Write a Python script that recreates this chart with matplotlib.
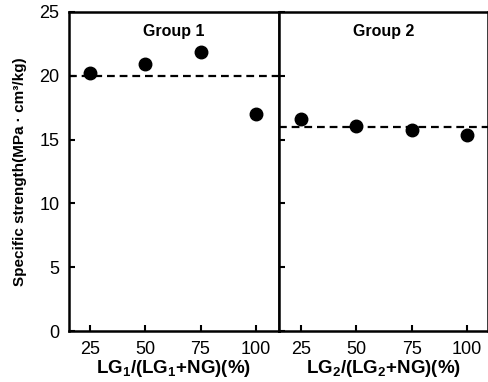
import matplotlib.pyplot as plt

plt.rcParams['font.family'] = ['Liberation Sans', 'DejaVu Sans']
plt.rcParams['mathtext.fontset'] = 'custom'
plt.rcParams['mathtext.rm'] = 'Liberation Sans:bold'
plt.rcParams['mathtext.bf'] = 'Liberation Sans:bold'

# data
ratio = [25, 50, 75, 100]
group1 = [20.2, 20.9, 21.9, 17.0]
group2 = [16.6, 16.05, 15.75, 15.35]
ref1 = 20
ref2 = 16
xlabels = ['LG$_1$/(LG$_1$+NG)(%)', 'LG$_2$/(LG$_2$+NG)(%)']
titles = ['Group 1', 'Group 2']

fig = plt.figure(figsize=(4.89, 3.82), dpi=100)
ax1 = fig.add_axes([69/489, 1-331/382, 210/489, 319/382])
ax2 = fig.add_axes([279/489, 1-331/382, 209/489, 319/382], sharey=ax1)

for ax, vals, ref, xl, t, xlim in [(ax1, group1, ref1, xlabels[0], titles[0], (15.5, 110.5)),
                                    (ax2, group2, ref2, xlabels[1], titles[1], (15.1, 109.4))]:
    ax.plot(ratio, vals, 'o', color='black', markersize=9, zorder=3)
    ax.axhline(ref, color='black', linestyle=(0, (3.5, 2.2)), linewidth=1.6)
    ax.set_xlim(*xlim)
    ax.set_ylim(0, 25)
    ax.set_xticks(ratio)
    ax.set_yticks([0, 5, 10, 15, 20, 25])
    ax.tick_params(direction='in', length=4, width=1.5, labelsize=13, pad=7)
    for s in ax.spines.values():
        s.set_linewidth(1.8)
    ax.set_xlabel(xl, fontsize=13.5, fontweight='bold', labelpad=0)
    ax.text(0.5, 0.94, t, transform=ax.transAxes, ha='center', va='center',
            fontsize=11.5, fontweight='bold')

ax2.tick_params(axis='y', labelleft=False)
ax1.set_ylabel('Specific strength(MPa · cm³/kg)', fontsize=11, fontweight='bold',
               family=['Liberation Sans Narrow', 'Liberation Sans'], labelpad=9)

plt.savefig('out.png', dpi=100)
